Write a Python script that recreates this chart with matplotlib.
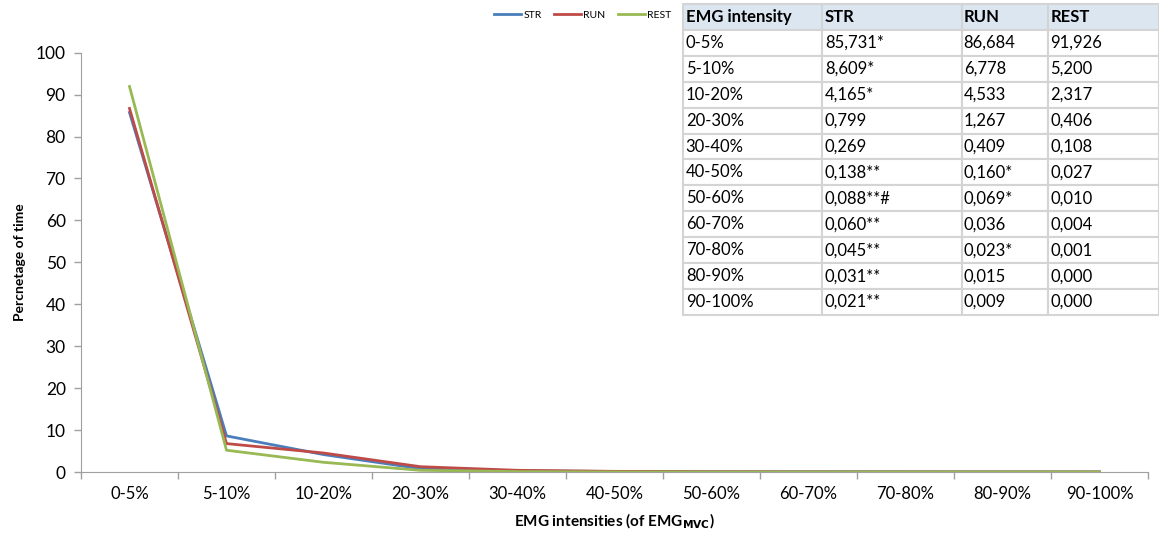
import matplotlib
matplotlib.use('Agg')
import matplotlib.pyplot as plt
import numpy as np

plt.rcParams['font.family'] = ['Lato', 'DejaVu Sans']

# ---------------------------------------------------------------------------
# Data
# ---------------------------------------------------------------------------
categories = ['0-5%', '5-10%', '10-20%', '20-30%', '30-40%', '40-50%',
              '50-60%', '60-70%', '70-80%', '80-90%', '90-100%']
str_vals = [85.731, 8.609, 4.165, 0.799, 0.269, 0.138, 0.088, 0.060, 0.045, 0.031, 0.021]
run_vals = [86.684, 6.778, 4.533, 1.267, 0.409, 0.160, 0.069, 0.036, 0.023, 0.015, 0.009]
rest_vals = [91.926, 5.200, 2.317, 0.406, 0.108, 0.027, 0.010, 0.004, 0.001, 0.000, 0.000]

str_marks = ['*', '*', '*', '', '', '**', '**#', '**', '**', '**', '**']
run_marks = ['', '', '', '', '', '*', '*', '', '*', '', '']

table_header = ['EMG intensity', 'STR', 'RUN', 'REST']


def fmt(v, mark=''):
    return f'{v:.3f}'.replace('.', ',') + mark


# ---------------------------------------------------------------------------
# Figure
# ---------------------------------------------------------------------------
fig = plt.figure(figsize=(11.59, 5.37), dpi=100)
ax = fig.add_axes([0.0699, 0.121, 0.9206, 0.781])

x = np.arange(len(categories))
colors = {'STR': '#4a7ebb', 'RUN': '#be4b48', 'REST': '#98b954'}
ax.plot(x, str_vals, color=colors['STR'], lw=2, label='STR')
ax.plot(x, run_vals, color=colors['RUN'], lw=2, label='RUN')
ax.plot(x, rest_vals, color=colors['REST'], lw=2, label='REST')

ax.set_xlim(-0.5, len(categories) - 0.5)
ax.set_ylim(0, 100)
ax.set_yticks(range(0, 101, 10))
ax.set_xticks(x)
ax.set_xticklabels(categories, fontsize=12)
ax.set_xticks(np.arange(-0.5, len(categories)), minor=True)
ax.tick_params(axis='x', which='major', length=0, pad=10)
ax.tick_params(axis='x', which='minor', length=5, color='#a0a0a0', width=1)
ax.tick_params(axis='y', labelsize=12.5, length=5, color='#a0a0a0', width=1, pad=6)

for side in ['top', 'right']:
    ax.spines[side].set_visible(False)
for side in ['left', 'bottom']:
    ax.spines[side].set_color('#a0a0a0')

ax.set_ylabel('Percnetage of time', fontsize=10, fontweight='bold', labelpad=7)
ax.set_xlabel('EMG intensities (of EMG$_{\\mathbf{MVC}}$)', fontsize=11,
              fontweight='bold', labelpad=7)

fig.legend(loc='center', bbox_to_anchor=(0.503, 0.972), ncol=3, frameon=False,
           fontsize=7.5, handlelength=2.6, handletextpad=0.2, columnspacing=1.2)

# ---------------------------------------------------------------------------
# Table
# ---------------------------------------------------------------------------
tax = fig.add_axes([0.5893, 0.4134, 0.4107, 0.5792])
tax.axis('off')
cells = [[c, fmt(s, sm), fmt(r, rm), fmt(re)]
         for c, s, sm, r, rm, re in zip(categories, str_vals, str_marks,
                                         run_vals, run_marks, rest_vals)]
tbl = tax.table(cellText=cells, colLabels=table_header, cellLoc='left',
                colLoc='left', bbox=[0, 0, 1, 1],
                colWidths=[0.292, 0.294, 0.181, 0.233])
tbl.auto_set_font_size(False)
tbl.set_fontsize(12)
for (r, c), cell in tbl.get_celld().items():
    cell.set_edgecolor('#d4d4d4')
    cell.set_linewidth(1.5)
    cell.PAD = 0.02
    if r == 0:
        cell.set_facecolor('#dce6f1')
        cell.get_text().set_fontweight('bold')

fig.savefig('out.png', dpi=100)
plt.close()
